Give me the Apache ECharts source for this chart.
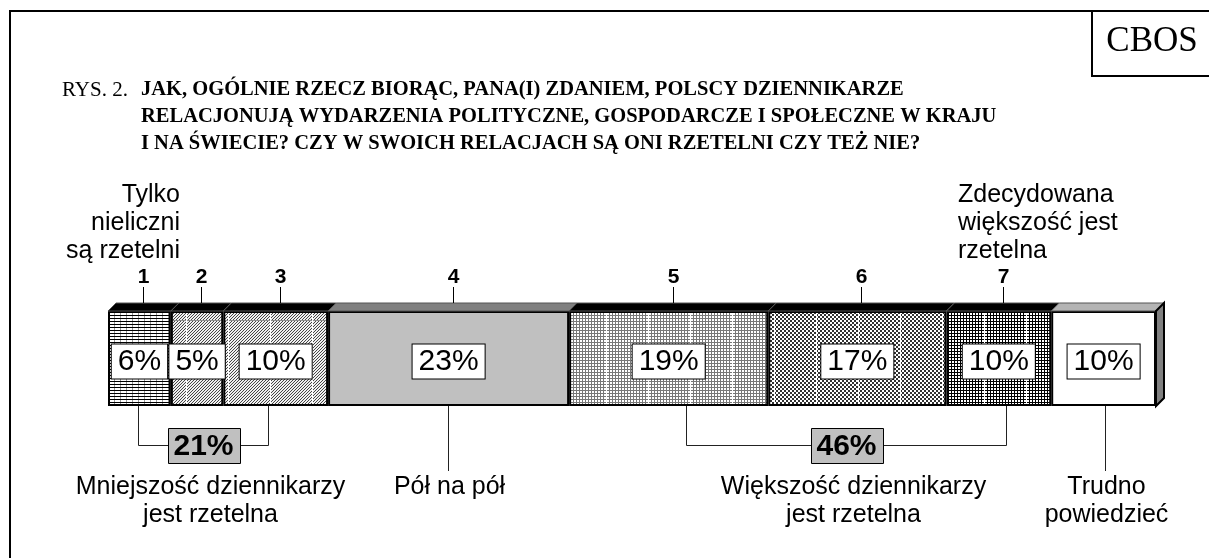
<!DOCTYPE html>
<html>
<head>
<meta charset="utf-8">
<script src="https://cdn.jsdelivr.net/npm/echarts@6/dist/echarts.min.js"></script>
<style>
  html, body { margin: 0; padding: 0; background: #fff; }
  #chart { width: 1209px; height: 558px; }
</style>
</head>
<body>
<div id="chart"></div>
<script>
// dane z rysunku
var scalePoints = ['1', '2', '3', '4', '5', '6', '7', '']
var shares = [6, 5, 10, 23, 19, 17, 10, 10]
var groupTotals = [21, 46]
var groupNames = ['Mniejszość dziennikarzy\njest rzetelna', 'Większość dziennikarzy\njest rzetelna']
var endNames = ['Tylko\nnieliczni\nsą rzetelni', 'Zdecydowana\nwiększość jest\nrzetelna']
var singleNames = ['Pół na pół', 'Trudno\npowiedzieć']
var titleLines = [
  'JAK, OGÓLNIE RZECZ BIORĄC, PANA(I) ZDANIEM, POLSCY DZIENNIKARZE',
  'RELACJONUJĄ WYDARZENIA POLITYCZNE, GOSPODARCZE I SPOŁECZNE W KRAJU',
  'I NA ŚWIECIE? CZY W SWOICH RELACJACH SĄ ONI RZETELNI CZY TEŻ NIE?'
]

// uklad (jednostki osi 0-100)
var bracketSpans = [[2.9, 15.3], [55.2, 85.7]]
var stemAt = [32.4, 95.1]
var gridLeft = 108
var gridTop = 311
var gridHeight = 95
var depth = 8
var sans = 'Liberation Sans, Arial, sans-serif'
var serif = 'Liberation Serif, Times New Roman, serif'

// wzory wypelnien
function tile (fn) {
  var w = 84, h = 96
  var c = document.createElement('canvas')
  c.width = w; c.height = h
  var ctx = c.getContext('2d')
  var img = ctx.createImageData(w, h)
  for (var y = 0; y < h; y++) {
    for (var x = 0; x < w; x++) {
      var v = fn(x, y)
      var k = (y * w + x) * 4
      img.data[k] = v; img.data[k + 1] = v; img.data[k + 2] = v; img.data[k + 3] = 255
    }
  }
  ctx.putImageData(img, 0, 0)
  return { image: c, repeat: 'repeat' }
}
function vline (x) { return x % 42 === 18 }
function hline (y) { return y === 32 }
function hatch (x, y) { return vline(x) ? 255 : hline(y) ? 140 : ((x + y) % 3 === 0 ? 70 : 240) }
var fills = [
  tile(function (x, y) { return y % 3 === 0 ? 0 : (x % 6 === 0 ? 150 : 255) }),
  tile(hatch),
  tile(hatch),
  '#c0c0c0',
  tile(function (x, y) { return vline(x) ? 255 : (x % 3 === 0 || y % 3 === 0) ? 120 : 255 }),
  tile(function (x, y) { return vline(x) ? 255 : ((Math.floor(x / 2) + Math.floor(y / 2)) % 2 ? 50 : 255) }),
  tile(function (x, y) { return vline(x) ? 255 : (x % 3 === 0 || y % 3 === 0) ? 0 : 255 }),
  '#ffffff'
]
var topColors = ['#000', '#000', '#000', '#808080', '#000', '#000', '#000', '#b4b4b4']

var starts = []
var acc = 0
shares.forEach(function (v) { starts.push(acc); acc += v })
var faceData = shares.map(function (v, i) { return [starts[i], starts[i] + v, 0] })

var chart = echarts.init(document.getElementById('chart'), null, { renderer: 'canvas' })

var barSeries = shares.map(function (v, i) {
  return {
    type: 'bar',
    stack: 'all',
    barWidth: '100%',
    data: [v],
    z: 2,
    itemStyle: { color: fills[i], borderColor: '#000', borderWidth: 2 },
    label: {
      show: true,
      position: 'inside',
      offset: [0, 3],
      formatter: '{c}%',
      fontFamily: sans,
      fontSize: 30,
      lineHeight: 31,
      color: '#000',
      backgroundColor: '#fff',
      borderColor: '#000',
      borderWidth: 1,
      padding: [2, 6, 1, 6]
    }
  }
})

// gorna sciana 3D, bok i numery skali
var faceSeries = {
  type: 'custom',
  coordinateSystem: 'cartesian2d',
  encode: { x: [0, 1], y: 2 },
  z: 3,
  data: faceData,
  renderItem: function (params, api) {
    var i = params.dataIndex
    var a = api.coord([api.value(0), 0])
    var b = api.coord([api.value(1), 0])
    var band = api.size([0, 1])[1]
    var top = a[1] - band / 2
    var bottom = a[1] + band / 2
    var children = [{
      type: 'polygon',
      shape: { points: [[a[0], top], [b[0], top], [b[0] + depth, top - depth], [a[0] + depth, top - depth]] },
      style: { fill: topColors[i], stroke: '#555', lineWidth: 1 }
    }]
    if (i === shares.length - 1) {
      children.push({
        type: 'polygon',
        shape: { points: [[b[0], top], [b[0] + depth, top - depth], [b[0] + depth, bottom - depth], [b[0], bottom]] },
        style: { fill: '#808080', stroke: '#000', lineWidth: 2 }
      })
    }
    if (scalePoints[i]) {
      var cx = Math.round((a[0] + b[0]) / 2 + depth / 2) + 0.5
      children.push({
        type: 'line',
        shape: { x1: cx, y1: top - depth - 16, x2: cx, y2: top - depth },
        style: { stroke: '#000', lineWidth: 1 }
      })
      children.push({
        type: 'text',
        style: {
          text: scalePoints[i], x: cx, y: top - depth - 26,
          align: 'center', verticalAlign: 'middle',
          font: 'bold 21px ' + sans, fill: '#000'
        }
      })
    }
    return { type: 'group', children: children }
  }
}

chart.setOption({
  animation: false,
  grid: { left: gridLeft, right: 1209 - gridLeft - 1048, top: gridTop, height: gridHeight },
  xAxis: { type: 'value', min: 0, max: 100, show: false },
  yAxis: { type: 'category', data: ['odp'], show: false },
  series: barSeries.concat([faceSeries])
})

// ramka, tytul i opisy
function px (v) { return chart.convertToPixel({ xAxisIndex: 0 }, v) }
var bottomY = gridTop + gridHeight
var g = []

g.push({ type: 'polyline', shape: { points: [[10, 558], [10, 11], [1209, 11]] }, style: { stroke: '#000', lineWidth: 2, fill: null } })
g.push({ type: 'polyline', shape: { points: [[1092, 11], [1092, 76], [1209, 76]] }, style: { stroke: '#000', lineWidth: 2, fill: null } })
g.push({ type: 'text', style: { text: 'CBOS', x: 1152, y: 42, align: 'center', verticalAlign: 'middle', font: '35px ' + serif, fill: '#000' } })

g.push({ type: 'text', style: { text: 'RYS. 2.', x: 62, y: 90, verticalAlign: 'middle', font: '21px ' + serif, fill: '#000' } })
titleLines.forEach(function (t, i) {
  g.push({ type: 'text', style: { text: t, x: 141, y: 90 + i * 26.75, verticalAlign: 'middle', font: 'bold 20.5px ' + serif, fill: '#000' } })
})

g.push({ type: 'text', style: { text: endNames[0], x: 180, y: 223, align: 'right', verticalAlign: 'middle', font: '25px ' + sans, lineHeight: 28, fill: '#000' } })
g.push({ type: 'text', style: { text: endNames[1], x: 958, y: 223, align: 'left', verticalAlign: 'middle', font: '25px ' + sans, lineHeight: 28, fill: '#000' } })

bracketSpans.forEach(function (s, i) {
  var x0 = Math.round(px(s[0])) + 0.5
  var x1 = Math.round(px(s[1])) + 0.5
  var mid = (x0 + x1) / 2
  g.push({ type: 'polyline', shape: { points: [[x0, bottomY], [x0, 445.5], [x1, 445.5], [x1, bottomY]] }, style: { stroke: '#222', lineWidth: 1, fill: null } })
  g.push({ type: 'rect', shape: { x: Math.round(mid - 36) + 0.5, y: 428.5, width: 72, height: 35 }, style: { fill: '#c0c0c0', stroke: '#000', lineWidth: 1 } })
  g.push({ type: 'text', style: { text: groupTotals[i] + '%', x: mid, y: 447, align: 'center', verticalAlign: 'middle', font: 'bold 30px ' + sans, fill: '#000' } })
  g.push({ type: 'text', style: { text: groupNames[i], x: mid + 7, y: 501, align: 'center', verticalAlign: 'middle', font: '25px ' + sans, lineHeight: 28, fill: '#000' } })
})

stemAt.forEach(function (v, i) {
  var x = Math.round(px(v)) + 0.5
  g.push({ type: 'line', shape: { x1: x, y1: bottomY, x2: x, y2: 471 }, style: { stroke: '#222', lineWidth: 1 } })
  g.push({ type: 'text', style: { text: singleNames[i], x: x + 1, y: i === 0 ? 487 : 501, align: 'center', verticalAlign: 'middle', font: '25px ' + sans, lineHeight: 28, fill: '#000' } })
})

chart.setOption({ graphic: g })
</script>
</body>
</html>
